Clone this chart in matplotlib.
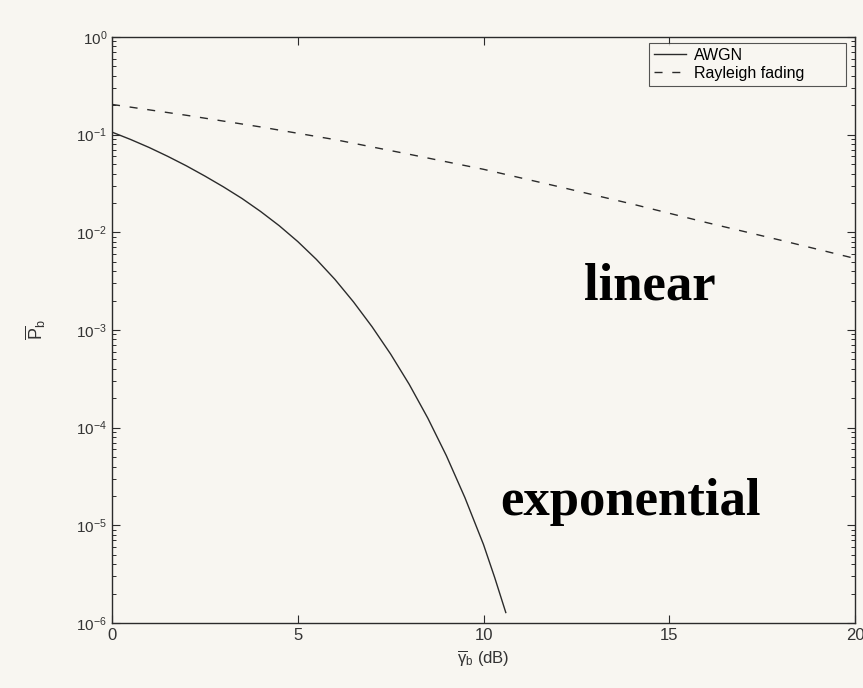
import matplotlib
matplotlib.use("Agg")
import matplotlib.pyplot as plt
from matplotlib.ticker import LogLocator, NullFormatter, FixedLocator

# Average SNR per bit (dB)
snr_awgn_db = [0, 0.5, 1, 1.5, 2, 2.5, 3, 3.5, 4, 4.5, 5, 5.5, 6, 6.5,
               7, 7.5, 8, 8.5, 9, 9.5, 10, 10.3, 10.6]
# Bit error probability over AWGN channel
pb_awgn = [1.062e-1, 8.93e-2, 7.39e-2, 6.00e-2, 4.80e-2, 3.77e-2, 2.92e-2,
           2.22e-2, 1.635e-2, 1.17e-2, 8.05e-3, 5.29e-3, 3.30e-3, 1.94e-3,
           1.08e-3, 5.67e-4, 2.78e-4, 1.254e-4, 5.17e-5, 1.92e-5, 6.36e-6,
           2.93e-6, 1.28e-6]

snr_ray_db = [0, 2, 4, 6, 8, 10, 12, 14, 16, 18, 20]
# Average bit error probability over Rayleigh fading channel
pb_ray = [0.204, 0.158, 0.120, 0.089, 0.063, 0.0442, 0.0295, 0.0195,
          0.0126, 0.0083, 0.0054]

x_ticks = [0, 5, 10, 15, 20]
series_labels = ["AWGN", "Rayleigh fading"]

paper = "#f8f6f1"
ink = "#2b2b2b"

plt.rcParams["font.family"] = ["Liberation Sans", "DejaVu Sans"]
plt.rcParams["axes.unicode_minus"] = False
plt.rcParams["mathtext.fontset"] = "custom"
plt.rcParams["mathtext.rm"] = "Liberation Sans"
plt.rcParams["mathtext.it"] = "Liberation Sans"
plt.rcParams["mathtext.bf"] = "Liberation Sans:bold"

fig = plt.figure(figsize=(8.63, 6.88), dpi=100, facecolor=paper)
ax = fig.add_axes([112 / 863, 1 - 623 / 688, 743 / 863, 586 / 688])
ax.set_facecolor(paper)

ax.plot(snr_awgn_db, pb_awgn, color=ink, lw=1.0, label=series_labels[0])
ln, = ax.plot(snr_ray_db, pb_ray, color=ink, lw=1.0, label=series_labels[1])
ln.set_dashes((5.8, 7.0))

ax.set_yscale("log")
ax.set_xlim(0, 20)
ax.set_ylim(1e-6, 1)
ax.xaxis.set_major_locator(FixedLocator(x_ticks))
ax.yaxis.set_major_locator(LogLocator(base=10, numticks=10))
ax.yaxis.set_minor_locator(LogLocator(base=10, subs=range(2, 10), numticks=20))
ax.yaxis.set_minor_formatter(NullFormatter())

ax.tick_params(which="both", direction="in", top=True, right=True,
               colors=ink, labelcolor="#333333")
ax.tick_params(which="major", length=6, width=0.8, labelsize=12)
ax.tick_params(axis="y", which="major", labelsize=11)
ax.tick_params(which="minor", length=3, width=0.7)
for s in ax.spines.values():
    s.set_color(ink)
    s.set_linewidth(1.0)

ax.set_xlabel(r"$\overline{\gamma}_{\mathrm{b}}$ (dB)", fontsize=12, color="#333333",
              labelpad=4)
ax.set_ylabel(r"$\overline{\mathrm{P}}_{\mathrm{b}}$", fontsize=13, color="#333333",
              labelpad=20)

leg = ax.legend(loc="upper right", bbox_to_anchor=(0.7227, 0.5, 0.2652, 0.4898),
                mode="expand", borderaxespad=0, fontsize=11.5, frameon=True,
                fancybox=False, handlelength=2.0, handletextpad=0.5,
                borderpad=0.3, labelspacing=0.2, facecolor=paper,
                edgecolor=ink)
leg.get_frame().set_linewidth(0.8)

fig.text(650 / 863, 1 - 300 / 688, "linear", family="Liberation Serif",
         weight="bold", fontsize=38, ha="center", va="baseline", color="black")
fig.text(630 / 863, 1 - 515 / 688, "exponential", family="Liberation Serif",
         weight="bold", fontsize=38, ha="center", va="baseline", color="black")

fig.savefig("out.png", dpi=100, facecolor=paper)
